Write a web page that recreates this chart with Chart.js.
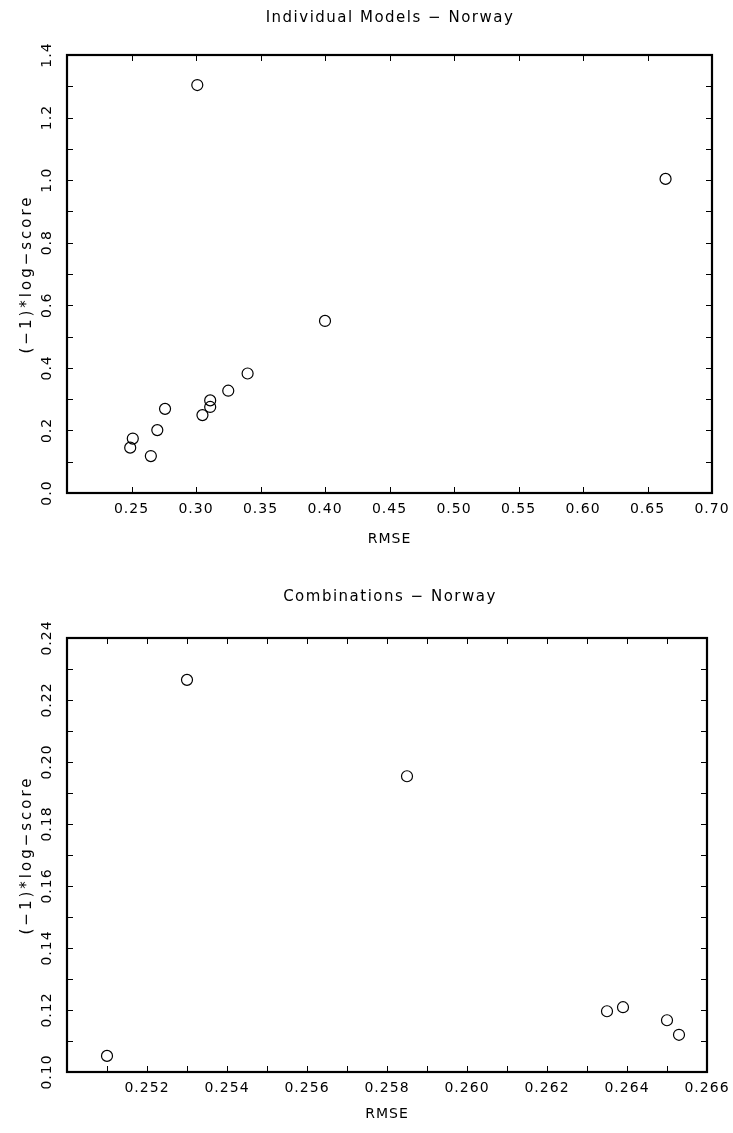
<!DOCTYPE html>
<html>
<head>
<meta charset="utf-8">
<script src="https://cdn.jsdelivr.net/npm/chart.js@4.4.1/dist/chart.umd.min.js"></script>
<style>
    html, body { margin: 0; padding: 0; background: #fff; }
    .panel { position: relative; width: 733px; }
    #top-panel { height: 566px; }
    #bottom-panel { height: 567px; }
</style>
</head>
<body>
<div class="panel" id="top-panel"><canvas id="topChart"></canvas></div>
<div class="panel" id="bottom-panel"><canvas id="bottomChart"></canvas></div>
<script>
// Individual models (RMSE vs -1*log-score)
const indivRmse  = [0.301, 0.664, 0.400, 0.340, 0.325, 0.311, 0.311, 0.305, 0.276, 0.270, 0.251, 0.249, 0.265];
const indivScore = [1.304, 1.004, 0.550, 0.382, 0.327, 0.296, 0.275, 0.249, 0.269, 0.201, 0.174, 0.145, 0.118];

// Combinations
const comboRmse  = [0.2510, 0.2530, 0.2585, 0.2635, 0.2639, 0.2650, 0.2653];
const comboScore = [0.1052, 0.2265, 0.1954, 0.1196, 0.1209, 0.1167, 0.1120];

// Axis ticks (minor marks) and the labelled subset
const topXTicks = [0.25, 0.30, 0.35, 0.40, 0.45, 0.50, 0.55, 0.60, 0.65, 0.70];
const topXLabels = [0.25, 0.30, 0.35, 0.40, 0.45, 0.50, 0.55, 0.60, 0.65, 0.70];
const topYTicks = [0.1, 0.2, 0.3, 0.4, 0.5, 0.6, 0.7, 0.8, 0.9, 1.0, 1.1, 1.2, 1.3];
const topYLabels = [0.0, 0.2, 0.4, 0.6, 0.8, 1.0, 1.2, 1.4];

const botXTicks = [0.251, 0.252, 0.253, 0.254, 0.255, 0.256, 0.257, 0.258, 0.259, 0.260, 0.261, 0.262, 0.263, 0.264, 0.265];
const botXLabels = [0.252, 0.254, 0.256, 0.258, 0.260, 0.262, 0.264, 0.266];
const botYTicks = [0.11, 0.12, 0.13, 0.14, 0.15, 0.16, 0.17, 0.18, 0.19, 0.20, 0.21, 0.22, 0.23];
const botYLabels = [0.10, 0.12, 0.14, 0.16, 0.18, 0.20, 0.22, 0.24];

const FONT = '"DejaVu Sans", sans-serif';

// Frame, inward ticks, rotated y labels and titles
const framePlugin = {
    id: 'frameAxes',
    afterDraw(chart, args, opts) {
        const ctx = chart.ctx;
        const { left, right, top, bottom } = chart.chartArea;
        const xs = chart.scales.x;
        const ys = chart.scales.y;
        const tick = 6;

        ctx.save();
        ctx.strokeStyle = '#000';
        ctx.fillStyle = '#000';

        // tick marks on all four sides, pointing inward
        ctx.lineWidth = 1;
        ctx.beginPath();
        opts.xTicks.forEach(v => {
            const px = Math.round(xs.getPixelForValue(v)) + 0.5;
            ctx.moveTo(px, bottom); ctx.lineTo(px, bottom - tick);
            ctx.moveTo(px, top); ctx.lineTo(px, top + tick);
        });
        opts.yTicks.forEach(v => {
            const py = Math.round(ys.getPixelForValue(v)) + 0.5;
            ctx.moveTo(left, py); ctx.lineTo(left + tick, py);
            ctx.moveTo(right, py); ctx.lineTo(right - tick, py);
        });
        ctx.stroke();

        // box
        ctx.lineWidth = 2.2;
        ctx.strokeRect(left, top, right - left, bottom - top);

        // x tick labels
        ctx.font = '14px ' + FONT;
        ctx.letterSpacing = '1px';
        ctx.textAlign = 'center';
        ctx.textBaseline = 'middle';
        opts.xLabels.forEach(v => {
            ctx.fillText(v.toFixed(opts.xDec), xs.getPixelForValue(v), bottom + 16);
        });

        // y tick labels, rotated
        opts.yLabels.forEach(v => {
            ctx.save();
            ctx.translate(left - 20, ys.getPixelForValue(v));
            ctx.rotate(-Math.PI / 2);
            ctx.fillText(v.toFixed(opts.yDec), 0, 0);
            ctx.restore();
        });

        // axis titles
        ctx.fillText(opts.xTitle, (left + right) / 2, bottom + opts.xTitleGap);
        ctx.save();
        ctx.font = '15px ' + FONT;
        ctx.letterSpacing = '3px';
        ctx.translate(27, (top + bottom) / 2);
        ctx.rotate(-Math.PI / 2);
        ctx.fillText(opts.yTitle, 0, 0);
        ctx.restore();

        // chart title
        ctx.font = '15px ' + FONT;
        ctx.letterSpacing = '1.5px';
        ctx.fillText(opts.title, 390, opts.titleY);
        ctx.restore();
    }
};

function makeChart(id, xs, ys, xMin, xMax, yMin, yMax, padding, frame) {
    const ctx = document.getElementById(id);
    const points = xs.map((x, i) => ({ x: x, y: ys[i] }));
    return new Chart(ctx, {
        type: 'scatter',
        data: {
            datasets: [{
                data: points,
                pointRadius: 5.5,
                pointHoverRadius: 5.5,
                pointBorderWidth: 1.2,
                pointBorderColor: '#000',
                pointBackgroundColor: 'rgba(0,0,0,0)'
            }]
        },
        options: {
            responsive: true,
            maintainAspectRatio: false,
            animation: false,
            devicePixelRatio: 1,
            layout: { padding: padding },
            plugins: {
                legend: { display: false },
                tooltip: { enabled: false },
                frameAxes: frame
            },
            scales: {
                x: { type: 'linear', min: xMin, max: xMax, display: false },
                y: { type: 'linear', min: yMin, max: yMax, display: false }
            }
        },
        plugins: [framePlugin]
    });
}

makeChart('topChart', indivRmse, indivScore, 0.20, 0.70, 0.0, 1.4,
    { left: 67, top: 55, right: 21, bottom: 73 },
    {
        title: 'Individual Models \u2212 Norway', titleY: 18,
        xTitle: 'RMSE', xTitleGap: 46, yTitle: '(\u22121)*log\u2212score',
        xTicks: topXTicks, xLabels: topXLabels, yTicks: topYTicks, yLabels: topYLabels,
        xDec: 2, yDec: 1
    });

makeChart('bottomChart', comboRmse, comboScore, 0.250, 0.266, 0.10, 0.24,
    { left: 67, top: 72, right: 26, bottom: 61 },
    {
        title: 'Combinations \u2212 Norway', titleY: 31,
        xTitle: 'RMSE', xTitleGap: 42, yTitle: '(\u22121)*log\u2212score',
        xTicks: botXTicks, xLabels: botXLabels, yTicks: botYTicks, yLabels: botYLabels,
        xDec: 3, yDec: 2
    });
</script>
</body>
</html>
